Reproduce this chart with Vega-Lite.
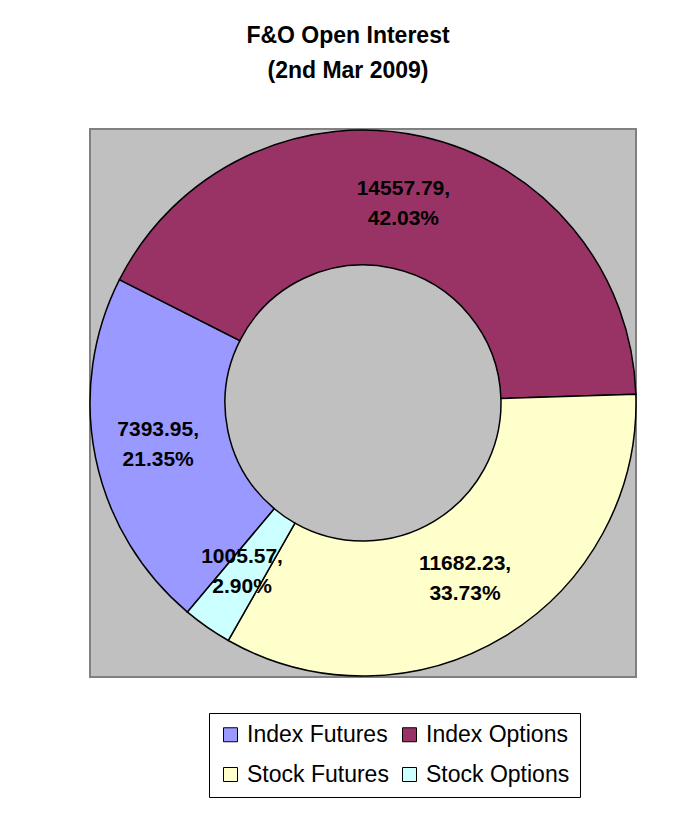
{
  "$schema": "https://vega.github.io/schema/vega-lite/v6.json",
  "autosize": "none",
  "width": 546,
  "height": 548,
  "padding": {"left": 90, "top": 129, "right": 48, "bottom": 143},
  "background": "white",
  "title": {
    "text": ["F&O Open Interest", "(2nd Mar 2009)"],
    "font": "Liberation Sans",
    "fontSize": 23,
    "fontWeight": "bold",
    "lineHeight": 35,
    "anchor": "middle",
    "offset": 44,
    "dx": -15,
    "color": "black"
  },
  "config": {
    "view": {"stroke": null},
    "font": "Liberation Sans"
  },
  "layer": [
    {
      "data": {"values": [{"area": "plot"}]},
      "mark": {"type": "rect", "fill": "#C0C0C0", "stroke": "#808080", "strokeWidth": 2},
      "encoding": {}
    },
    {
      "data": {
        "values": [
          {"segment": "Index Futures", "value": 7393.95, "pct": "21.35%"},
          {"segment": "Index Options", "value": 14557.79, "pct": "42.03%"},
          {"segment": "Stock Futures", "value": 11682.23, "pct": "33.73%"},
          {"segment": "Stock Options", "value": 1005.57, "pct": "2.90%"}
        ]
      },
      "transform": [
        {"calculate": "[format(datum.value, '.2f') + ',', datum.pct]", "as": "label"}
      ],
      "encoding": {
        "theta": {
          "field": "value",
          "type": "quantitative",
          "stack": true,
          "scale": {"range": [3.840, 10.123]}
        },
        "order": {"field": "segment", "type": "ordinal", "sort": "ascending"}
      },
      "layer": [
        {
          "mark": {"type": "arc", "outerRadius": 273, "innerRadius": 138, "stroke": "black", "strokeWidth": 1.5},
          "encoding": {
            "color": {
              "field": "segment",
              "type": "nominal",
              "scale": {
                "domain": ["Index Futures", "Index Options", "Stock Futures", "Stock Options"],
                "range": ["#9999FF", "#993366", "#FFFFCC", "#CCFFFF"]
              },
              "legend": {
                "title": null,
                "orient": "none",
                "legendX": 119,
                "legendY": 584,
                "columns": 2,
                "direction": "horizontal",
                "strokeColor": "black",
                "fillColor": "white",
                "padding": 10,
                "symbolType": "square",
                "symbolSize": 196,
                "symbolStrokeColor": "black",
                "symbolStrokeWidth": 1,
                "symbolOpacity": 1,
                "labelFont": "Liberation Sans",
                "labelFontSize": 23,
                "labelColor": "black",
                "labelLimit": 300,
                "labelOffset": 5,
                "columnPadding": 9,
                "rowPadding": 16
              }
            }
          }
        },
        {
          "mark": {
            "type": "text",
            "radius": 205,
            "font": "Liberation Sans",
            "fontSize": 21,
            "fontWeight": "bold",
            "lineHeight": 30,
            "align": "center",
            "baseline": "middle",
            "dx": -4,
            "dy": -14,
            "color": "black"
          },
          "encoding": {
            "text": {"field": "label"}
          }
        }
      ]
    }
  ]
}
